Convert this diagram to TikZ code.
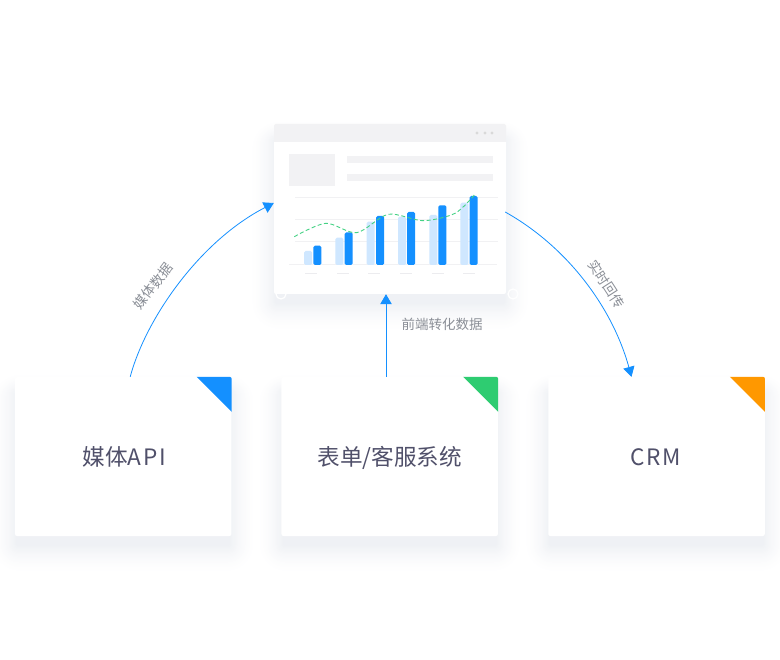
\documentclass[tikz,border=0pt]{standalone}
\usepackage{fontspec}
\usepackage{xcolor}
\usetikzlibrary{calc,arrows.meta}
\newfontfamily\cjk{Noto Sans CJK SC}
\definecolor{linkblue}{HTML}{1490FF}
\definecolor{barlight}{HTML}{CFE7FF}
\definecolor{panelgrey}{HTML}{F2F2F4}
\definecolor{gridgrey}{HTML}{F1F1F3}
\definecolor{tickgrey}{HTML}{ECECEF}
\definecolor{titleink}{HTML}{50506A}
\definecolor{noteink}{HTML}{8A8E96}
\definecolor{dashgreen}{HTML}{45D285}
\definecolor{cornergreen}{HTML}{2ECC71}
\definecolor{cornerorange}{HTML}{FF9800}
\definecolor{softshade}{HTML}{EEF0F4}
\newcommand{\softshadow}[4]{%
	\foreach \i in {24,23,...,1} {
		\pgfmathsetmacro{\pct}{100*(1-\i/25)^1.6}
		\fill[softshade!\pct!white,rounded corners=\i*1.2pt]
			(#1+3-\i*1.1,#2+16-\i*0.8) rectangle (#3-3+\i*1.1,#4+8+\i*1.2);
	}
}
\newcommand{\cardtext}[1]{\raisebox{-9.5pt}[0pt][0pt]{#1}}
\tikzset{
	card/.style={fill=white,rounded corners=2pt,minimum width=216.5pt,minimum height=159pt,inner sep=0pt,
		font=\cjk\fontsize{22.6}{26}\selectfont,text=titleink},
	screen/.style={fill=white,rounded corners=2pt,minimum width=232pt,minimum height=170pt,inner sep=0pt},
	link/.style={linkblue,line width=0.8pt,-{Triangle[length=10pt,width=11.5pt]}},
	note/.style={font=\cjk\fontsize{13.5}{16}\selectfont,text=noteink,inner sep=0pt},
}
\begin{document}
\begin{tikzpicture}[x=1pt,y=-1pt]
	\useasboundingbox (0,0) rectangle (780,660);
	\fill[white] (0,0) rectangle (780,660);

	\softshadow{274}{124}{506}{294}
	\softshadow{15}{377}{231.5}{536}
	\softshadow{281.5}{377}{498}{536}
	\softshadow{548}{377}{765}{536}

	\draw[white,line width=1.2pt] (281,294) circle (5);
	\draw[white,line width=1.2pt] (513,294) circle (5);

	\node[screen] (panel) at (390,209) {};
	\begin{scope}
		\clip (274,124) rectangle (506,142);
		\fill[panelgrey,rounded corners=2pt] (274,124) rectangle (506,150);
	\end{scope}
	\foreach \x in {477,485,492}
		\fill[black!15] (\x,133) circle (1.6);
	\fill[panelgrey] (289,154) rectangle (335,186);
	\fill[panelgrey] (347,156) rectangle (493,163);
	\fill[panelgrey] (347,174) rectangle (493,181);
	\foreach \y in {197.5,220,242}
		\draw[gridgrey,line width=1pt] (295,\y) -- (498,\y);
	\draw[gridgrey,line width=1pt] (289,265) -- (497,265);
	\foreach \x/\h in {304/251,335.3/237.7,366.7/221.7,398/216.7,429.3/215,460.3/202.7}
		\fill[barlight,rounded corners=1.5pt] (\x,265) rectangle (\x+8,\h);
	\foreach \x/\h in {313.3/245.7,344.7/232.3,376/216,407/212,438.3/205.3,469.7/196}
		\fill[linkblue,rounded corners=1.5pt] (\x,265) rectangle (\x+8,\h);
	\foreach \x in {305,337,368.3,400.3,431.7,463}
		\draw[tickgrey,line width=1pt] (\x,274) -- (\x+12,274);
	\draw[dashgreen,line width=0.9pt,dash pattern=on 4pt off 2.5pt] plot[smooth,tension=0.5] coordinates {(294.3,236.7) (325.7,223.3) (356.7,232.7) (388.3,214.3) (423.3,220.7) (455,213.3) (474.3,195)};

	\node[card] (apicard) at (123.2,456.5) {\cardtext{\hspace{2.5pt}媒体A\hspace{2pt}P\hspace{2pt}I}};
	\node[card] (formcard) at (389.7,456.5) {\cardtext{表单/客服系统}};
	\node[card] (crmcard) at (656.5,456.5) {\cardtext{C\hspace{1.5pt}R\hspace{1.5pt}M\hspace{1.5pt}}};

	\foreach \name/\col in {apicard/linkblue,formcard/cornergreen,crmcard/cornerorange}
		\fill[\col] ($(\name.north east)+(-35,0)$) {[rounded corners=2pt] -- (\name.north east)} -- ($(\name.north east)+(0,35)$) -- cycle;

	\draw[link] ($(apicard.north)+(7,0)$) .. controls (146,318) and (200,241) .. ($(panel.west)+(0,-6)$);
	\draw[link] ($(formcard.north)+(-3.7,0)$) -- ($(panel.south)+(-4,0)$);
	\draw[link] ($(panel.east)+(-1,3)$) .. controls (566,246) and (612,306) .. ($(crmcard.north)+(-25,0)$);

	\node[note,rotate=53] (apinote) at (153,286) {媒体数据};
	\node[note] (formnote) at (442,324.5) {前端转化数据};
	\node[note,rotate=-57] (crmnote) at (606.5,284) {实时回传};
\end{tikzpicture}
\end{document}
